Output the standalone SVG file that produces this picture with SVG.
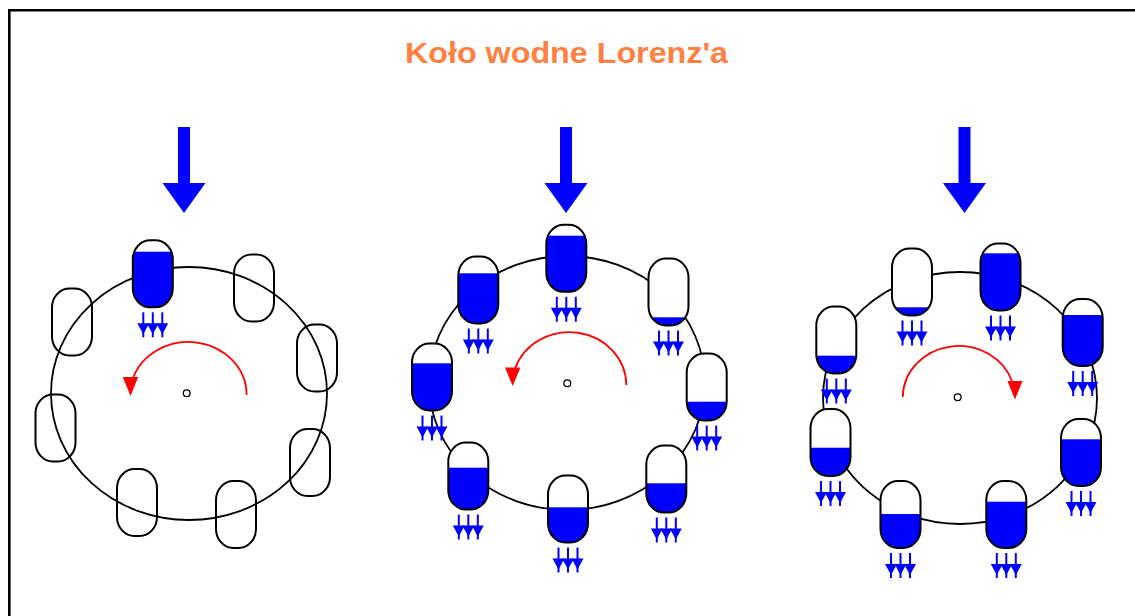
<svg xmlns="http://www.w3.org/2000/svg" xmlns:xlink="http://www.w3.org/1999/xlink" width="1135" height="616" viewBox="0 0 1135 616">
  <style>
    .frame { fill: none; stroke: #000; stroke-width: 2.6; }
    .title { font-family: "Liberation Sans", Arial, sans-serif; font-weight: bold; font-size: 29px; fill: #FF8040; }
    .wheel { fill: none; stroke: #000; stroke-width: 1.8; }
    .hub { fill: #fff; stroke: #000; stroke-width: 1.3; }
    .inflow { fill: #0000FF; }
    .spin { fill: none; stroke: #FF0000; stroke-width: 1.8; }
    .spinhead { fill: #FF0000; }
    .body { fill: #fff; }
    .rim { fill: none; stroke: #000; stroke-width: 2; }
    .water { fill: #0000FF; }
    .drip line { stroke: #0000FF; stroke-width: 2; }
    .drip polygon { fill: #0000FF; }
  </style>
  <defs>
    <!-- bucket outline, 40 x 67, origin at its top-left corner -->
    <rect id="bucket" x="0" y="0" width="40" height="67" rx="17.5" ry="19"/>
    <clipPath id="bucketInside">
      <use xlink:href="#bucket"/>
    </clipPath>
    <!-- three small drops falling from a bucket bottom (local coords) -->
    <g id="drops" class="drip">
      <line x1="10.5" y1="72" x2="10.5" y2="97"/>
      <line x1="20" y1="72" x2="20" y2="97"/>
      <line x1="29.5" y1="72" x2="29.5" y2="97"/>
      <polygon points="4.5,83 16.5,83 10.5,94"/>
      <polygon points="14,83 26,83 20,94"/>
      <polygon points="23.5,83 35.5,83 29.5,94"/>
    </g>
    <!-- big inflow arrow centred on x = 0 -->
    <polygon id="inflowArrow" points="-6,127 6,127 6,183 21.5,183 0,213 -21.5,183 -6,183"/>
  </defs>

  <rect x="0" y="0" width="1135" height="616" fill="#fff"/>
  <path class="frame" d="M9.3 616 V10.3 H1135"/>

  <text class="title" x="405" y="63" textLength="323" lengthAdjust="spacingAndGlyphs">Koło wodne Lorenz'a</text>

  <!-- ===== Wheel 1: only the top bucket holds water ===== -->
  <g id="wheel1">
    <use xlink:href="#inflowArrow" class="inflow" transform="translate(184,0)"/>
    <g id="w1-connectors">
      <ellipse class="wheel" cx="189" cy="393.5" rx="138" ry="126.5"/>
    </g>
    <g id="w1-b1" transform="translate(132.8,240.3)">
      <use xlink:href="#bucket" class="body"/>
      <rect class="water" clip-path="url(#bucketInside)" x="0" y="11.4" width="40" height="60"/>
      <use xlink:href="#bucket" class="rim"/>
      <use xlink:href="#drops"/>
    </g>
    <g id="w1-b2" transform="translate(234,254.5)"><use xlink:href="#bucket" class="rim"/></g>
    <g id="w1-b3" transform="translate(297,324.5)"><use xlink:href="#bucket" class="rim"/></g>
    <g id="w1-b4" transform="translate(290,429)"><use xlink:href="#bucket" class="rim"/></g>
    <g id="w1-b5" transform="translate(216,481)"><use xlink:href="#bucket" class="rim"/></g>
    <g id="w1-b6" transform="translate(117,469)"><use xlink:href="#bucket" class="rim"/></g>
    <g id="w1-b7" transform="translate(35.5,394.5)"><use xlink:href="#bucket" class="rim"/></g>
    <g id="w1-b8" transform="translate(52,288.5)"><use xlink:href="#bucket" class="rim"/></g>
    <g id="w1-rotation">
      <path class="spin" d="M246.6 395 A58.3 53 0 0 0 132.7 379"/>
      <polygon class="spinhead" points="122.8,377 138.2,377 130.5,396"/>
    </g>
    <circle class="hub" cx="186.7" cy="393.3" r="3.4"/>
  </g>

  <!-- ===== Wheel 2: turning anticlockwise ===== -->
  <g id="wheel2">
    <use xlink:href="#inflowArrow" class="inflow" transform="translate(566,0)"/>
    <g id="w2-connectors">
      <ellipse class="wheel" cx="567" cy="383" rx="138" ry="127"/>
    </g>
    <g id="w2-b1" transform="translate(546.3,224.8)">
      <use xlink:href="#bucket" class="body"/>
      <rect class="water" clip-path="url(#bucketInside)" x="0" y="10.9" width="40" height="60"/>
      <use xlink:href="#bucket" class="rim"/>
    </g>
    <g id="w2-b2" transform="translate(458.3,256.5)">
      <use xlink:href="#bucket" class="body"/>
      <rect class="water" clip-path="url(#bucketInside)" x="0" y="16.8" width="40" height="60"/>
      <use xlink:href="#bucket" class="rim"/>
    </g>
    <g id="w2-b3" transform="translate(648.5,258.5)">
      <use xlink:href="#bucket" class="body"/>
      <rect class="water" clip-path="url(#bucketInside)" x="0" y="58.8" width="40" height="20"/>
      <use xlink:href="#bucket" class="rim"/>
    </g>
    <g id="w2-b4" transform="translate(412,343.5)">
      <use xlink:href="#bucket" class="body"/>
      <rect class="water" clip-path="url(#bucketInside)" x="0" y="19.8" width="40" height="60"/>
      <use xlink:href="#bucket" class="rim"/>
    </g>
    <g id="w2-b5" transform="translate(686.7,353.5)">
      <use xlink:href="#bucket" class="body"/>
      <rect class="water" clip-path="url(#bucketInside)" x="0" y="48.2" width="40" height="30"/>
      <use xlink:href="#bucket" class="rim"/>
    </g>
    <g id="w2-b6" transform="translate(448.3,442.5)">
      <use xlink:href="#bucket" class="body"/>
      <rect class="water" clip-path="url(#bucketInside)" x="0" y="25.2" width="40" height="50"/>
      <use xlink:href="#bucket" class="rim"/>
    </g>
    <g id="w2-b7" transform="translate(548,475.5)">
      <use xlink:href="#bucket" class="body"/>
      <rect class="water" clip-path="url(#bucketInside)" x="0" y="31.8" width="40" height="40"/>
      <use xlink:href="#bucket" class="rim"/>
    </g>
    <g id="w2-b8" transform="translate(646.3,445.5)">
      <use xlink:href="#bucket" class="body"/>
      <rect class="water" clip-path="url(#bucketInside)" x="0" y="37.8" width="40" height="40"/>
      <use xlink:href="#bucket" class="rim"/>
    </g>
    <g id="w2-drops">
      <use xlink:href="#drops" transform="translate(546.3,224.8)"/>
      <use xlink:href="#drops" transform="translate(458.3,256.5)"/>
      <use xlink:href="#drops" transform="translate(648.5,258.5)"/>
      <use xlink:href="#drops" transform="translate(412,343.5)"/>
      <use xlink:href="#drops" transform="translate(686.7,353.5)"/>
      <use xlink:href="#drops" transform="translate(448.3,442.5)"/>
      <use xlink:href="#drops" transform="translate(548,475.5)"/>
      <use xlink:href="#drops" transform="translate(646.3,445.5)"/>
    </g>
    <g id="w2-rotation">
      <path class="spin" d="M626.3 385 A57 53 0 0 0 515 369"/>
      <polygon class="spinhead" points="505,367.5 520.4,367.5 512.7,386"/>
    </g>
    <circle class="hub" cx="567.3" cy="383.3" r="3.4"/>
  </g>

  <!-- ===== Wheel 3: turning clockwise ===== -->
  <g id="wheel3">
    <use xlink:href="#inflowArrow" class="inflow" transform="translate(964.5,0)"/>
    <g id="w3-connectors">
      <ellipse class="wheel" cx="960" cy="398" rx="137" ry="126"/>
    </g>
    <g id="w3-b1" transform="translate(892,248.5)">
      <use xlink:href="#bucket" class="body"/>
      <rect class="water" clip-path="url(#bucketInside)" x="0" y="58.8" width="40" height="20"/>
      <use xlink:href="#bucket" class="rim"/>
    </g>
    <g id="w3-b2" transform="translate(980.5,243.5)">
      <use xlink:href="#bucket" class="body"/>
      <rect class="water" clip-path="url(#bucketInside)" x="0" y="9.8" width="40" height="60"/>
      <use xlink:href="#bucket" class="rim"/>
    </g>
    <g id="w3-b3" transform="translate(1062.7,299)">
      <use xlink:href="#bucket" class="body"/>
      <rect class="water" clip-path="url(#bucketInside)" x="0" y="16" width="40" height="60"/>
      <use xlink:href="#bucket" class="rim"/>
    </g>
    <g id="w3-b4" transform="translate(816.3,306.5)">
      <use xlink:href="#bucket" class="body"/>
      <rect class="water" clip-path="url(#bucketInside)" x="0" y="49.2" width="40" height="30"/>
      <use xlink:href="#bucket" class="rim"/>
    </g>
    <g id="w3-b5" transform="translate(810.5,409)">
      <use xlink:href="#bucket" class="body"/>
      <rect class="water" clip-path="url(#bucketInside)" x="0" y="38.7" width="40" height="40"/>
      <use xlink:href="#bucket" class="rim"/>
    </g>
    <g id="w3-b6" transform="translate(1061,419)">
      <use xlink:href="#bucket" class="body"/>
      <rect class="water" clip-path="url(#bucketInside)" x="0" y="20.3" width="40" height="60"/>
      <use xlink:href="#bucket" class="rim"/>
    </g>
    <g id="w3-b7" transform="translate(880.5,481)">
      <use xlink:href="#bucket" class="body"/>
      <rect class="water" clip-path="url(#bucketInside)" x="0" y="33" width="40" height="40"/>
      <use xlink:href="#bucket" class="rim"/>
    </g>
    <g id="w3-b8" transform="translate(986.3,481)">
      <use xlink:href="#bucket" class="body"/>
      <rect class="water" clip-path="url(#bucketInside)" x="0" y="20.7" width="40" height="60"/>
      <use xlink:href="#bucket" class="rim"/>
    </g>
    <g id="w3-drops">
      <use xlink:href="#drops" transform="translate(892,248.5)"/>
      <use xlink:href="#drops" transform="translate(980.5,243.5)"/>
      <use xlink:href="#drops" transform="translate(1062.7,299)"/>
      <use xlink:href="#drops" transform="translate(816.3,306.5)"/>
      <use xlink:href="#drops" transform="translate(810.5,409)"/>
      <use xlink:href="#drops" transform="translate(1061,419)"/>
      <use xlink:href="#drops" transform="translate(880.5,481)"/>
      <use xlink:href="#drops" transform="translate(986.3,481)"/>
    </g>
    <g id="w3-rotation">
      <path class="spin" d="M902.8 397 A56 51.5 0 0 1 1012.2 382"/>
      <polygon class="spinhead" points="1007.5,381 1022.5,381 1015,399.5"/>
    </g>
    <circle class="hub" cx="957.7" cy="397.3" r="3.4"/>
  </g>
</svg>
